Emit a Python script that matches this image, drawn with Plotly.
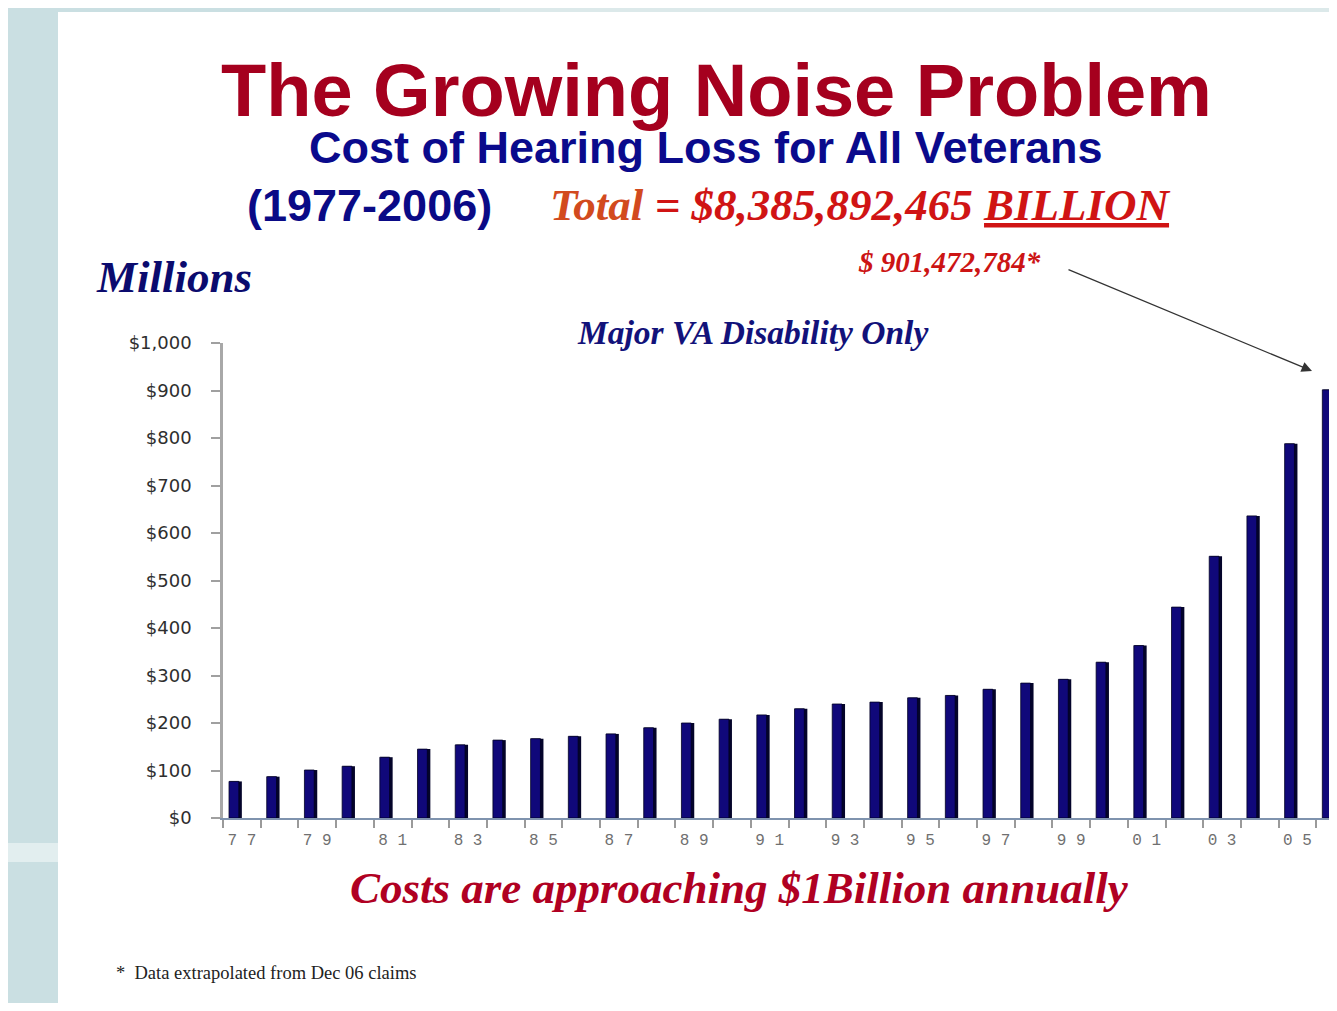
import plotly.graph_objects as go

# the page has an 8px body margin, so the figure is sized to fit inside it
OFF = 8
W, H = 1337 - 2 * OFF, 1011 - 2 * OFF

years = list(range(1977, 2007))
costs_millions = [77, 87, 101, 109, 128, 145, 154, 164, 167, 172,
                  177, 190, 200, 208, 217, 230, 240, 244, 253, 258,
                  271, 284, 292, 328, 363, 444, 551, 636, 788, 901.47]
y_tick_vals = [0, 100, 200, 300, 400, 500, 600, 700, 800, 900, 1000]
y_tick_text = ["$0", "$100", "$200", "$300", "$400", "$500", "$600",
               "$700", "$800", "$900", "$1,000"]
x_label_years = years[::2]
x_label_text = ["77", "79", "81", "83", "85", "87", "89", "91", "93",
                "95", "97", "99", "01", "03", "05"]


def px(x):
    return (x - OFF) / W


def py(y):
    return 1 - (y - OFF) / H


fig = go.Figure()

# depth/shadow side of bars (3D look)
fig.add_trace(go.Bar(
    x=years, y=costs_millions,
    offset=-0.31, width=0.31,
    marker=dict(color="#04042A", line=dict(width=0)),
    hoverinfo="skip", showlegend=False,
))
# front face
fig.add_trace(go.Bar(
    x=years, y=costs_millions,
    offset=-0.34, width=0.26,
    marker=dict(color="#10087A", line=dict(color="#000022", width=0.8)),
    showlegend=False,
))

# x range: one category spans ~37.7 px, 2006 bar cut at the right edge
plot_right = OFF + W
x_lo = 1976.5
x_hi = x_lo + (plot_right - 223) / 37.7

fig.update_layout(
    width=W, height=H,
    autosize=False,
    margin=dict(l=0, r=0, t=0, b=0, pad=0, autoexpand=False),
    paper_bgcolor="#CADFE2",
    plot_bgcolor="rgba(0,0,0,0)",
    barmode="overlay",
    showlegend=False,
    xaxis=dict(
        domain=[px(223), 1.0],
        range=[x_lo, x_hi],
        tickvals=x_label_years,
        ticktext=[" ".join(t) for t in x_label_text],
        ticks="", ticklen=0,
        ticklabelstandoff=6,
        tickfont=dict(family="Liberation Mono", size=16, color="#707070"),
        showgrid=False, zeroline=False,
        showline=True, linecolor="#7F93AE", linewidth=2,
        minor=dict(tickvals=[y - 0.5 for y in years],
                   ticks="outside", ticklen=8, tickcolor="#9A9A9A",
                   tickwidth=1.5, showgrid=False),
        automargin=False,
        fixedrange=True,
    ),
    yaxis=dict(
        domain=[py(818), py(343)],
        range=[0, 1000],
        tickvals=y_tick_vals,
        ticktext=y_tick_text,
        ticks="outside", ticklen=9, tickcolor="#A0A0A0", tickwidth=1.5,
        ticklabelstandoff=16,
        tickfont=dict(family="DejaVu Sans", size=18, color="#2E2E2E"),
        showgrid=False, zeroline=False,
        showline=True, linecolor="#A8A8A8", linewidth=2.5,
        automargin=False,
        fixedrange=True,
    ),
    shapes=[
        # lighter top strip toward the right
        dict(type="rect", xref="paper", yref="paper", x0=px(500), x1=1,
             y0=py(12), y1=1, fillcolor="#DCE9EA", line=dict(width=0),
             layer="below"),
        # glare band on the left strip
        dict(type="rect", xref="paper", yref="paper", x0=0, x1=px(58),
             y0=py(862), y1=py(843), fillcolor="#E2EEEF",
             line=dict(width=0), layer="below"),
        # white slide panel
        dict(type="rect", xref="paper", yref="paper", x0=px(58), x1=1,
             y0=0, y1=py(12), fillcolor="#FFFFFF",
             line=dict(width=0), layer="below"),
    ],
)

serif = "Liberation Serif"
sans = "Liberation Sans"


def note(text, xc, yc, font, size, color, xanchor="center"):
    fig.add_annotation(
        x=px(xc), y=py(yc), xref="paper", yref="paper",
        xanchor=xanchor, yanchor="middle", showarrow=False,
        text=text, font=dict(family=font, size=size, color=color),
    )


note("<b>The Growing Noise Problem</b>", 716, 91, sans, 74, "#A5001E")
note("<b>Cost of Hearing Loss for All Veterans</b>", 706, 148, sans, 45, "#0A0A8C")
note("<b>(1977-2006)</b>", 369, 205, sans, 45, "#0A0A86")
note("<b><i><span style='color:#D24A1E'>Total</span> = $8,385,892,465 <u>BILLION</u></i></b>",
     861, 205, serif, 45, "#D01414")
note("<b><i>Millions</i></b>", 174, 277, serif, 45, "#0B0B6E")
note("<b><i>$ 901,472,784*</i></b>", 949, 262, serif, 29, "#CC1414")
note("<b><i>Major VA Disability Only</i></b>", 752, 333, serif, 33.5, "#12127A")
note("<b><i>Costs are approaching $1Billion annually</i></b>", 739, 888, serif, 45, "#B00022")
note("*  Data extrapolated from Dec 06 claims", 266, 973, serif, 18.5, "#222222")

# arrow pointing at the 2006 bar
fig.add_annotation(
    x=px(1312), y=py(371), xref="paper", yref="paper",
    ax=-245, ay=-102, axref="pixel", ayref="pixel",
    showarrow=True, arrowhead=2, arrowsize=1.6, arrowwidth=1.3,
    arrowcolor="#333333", text="", standoff=0,
)

fig.write_html("out.html")
